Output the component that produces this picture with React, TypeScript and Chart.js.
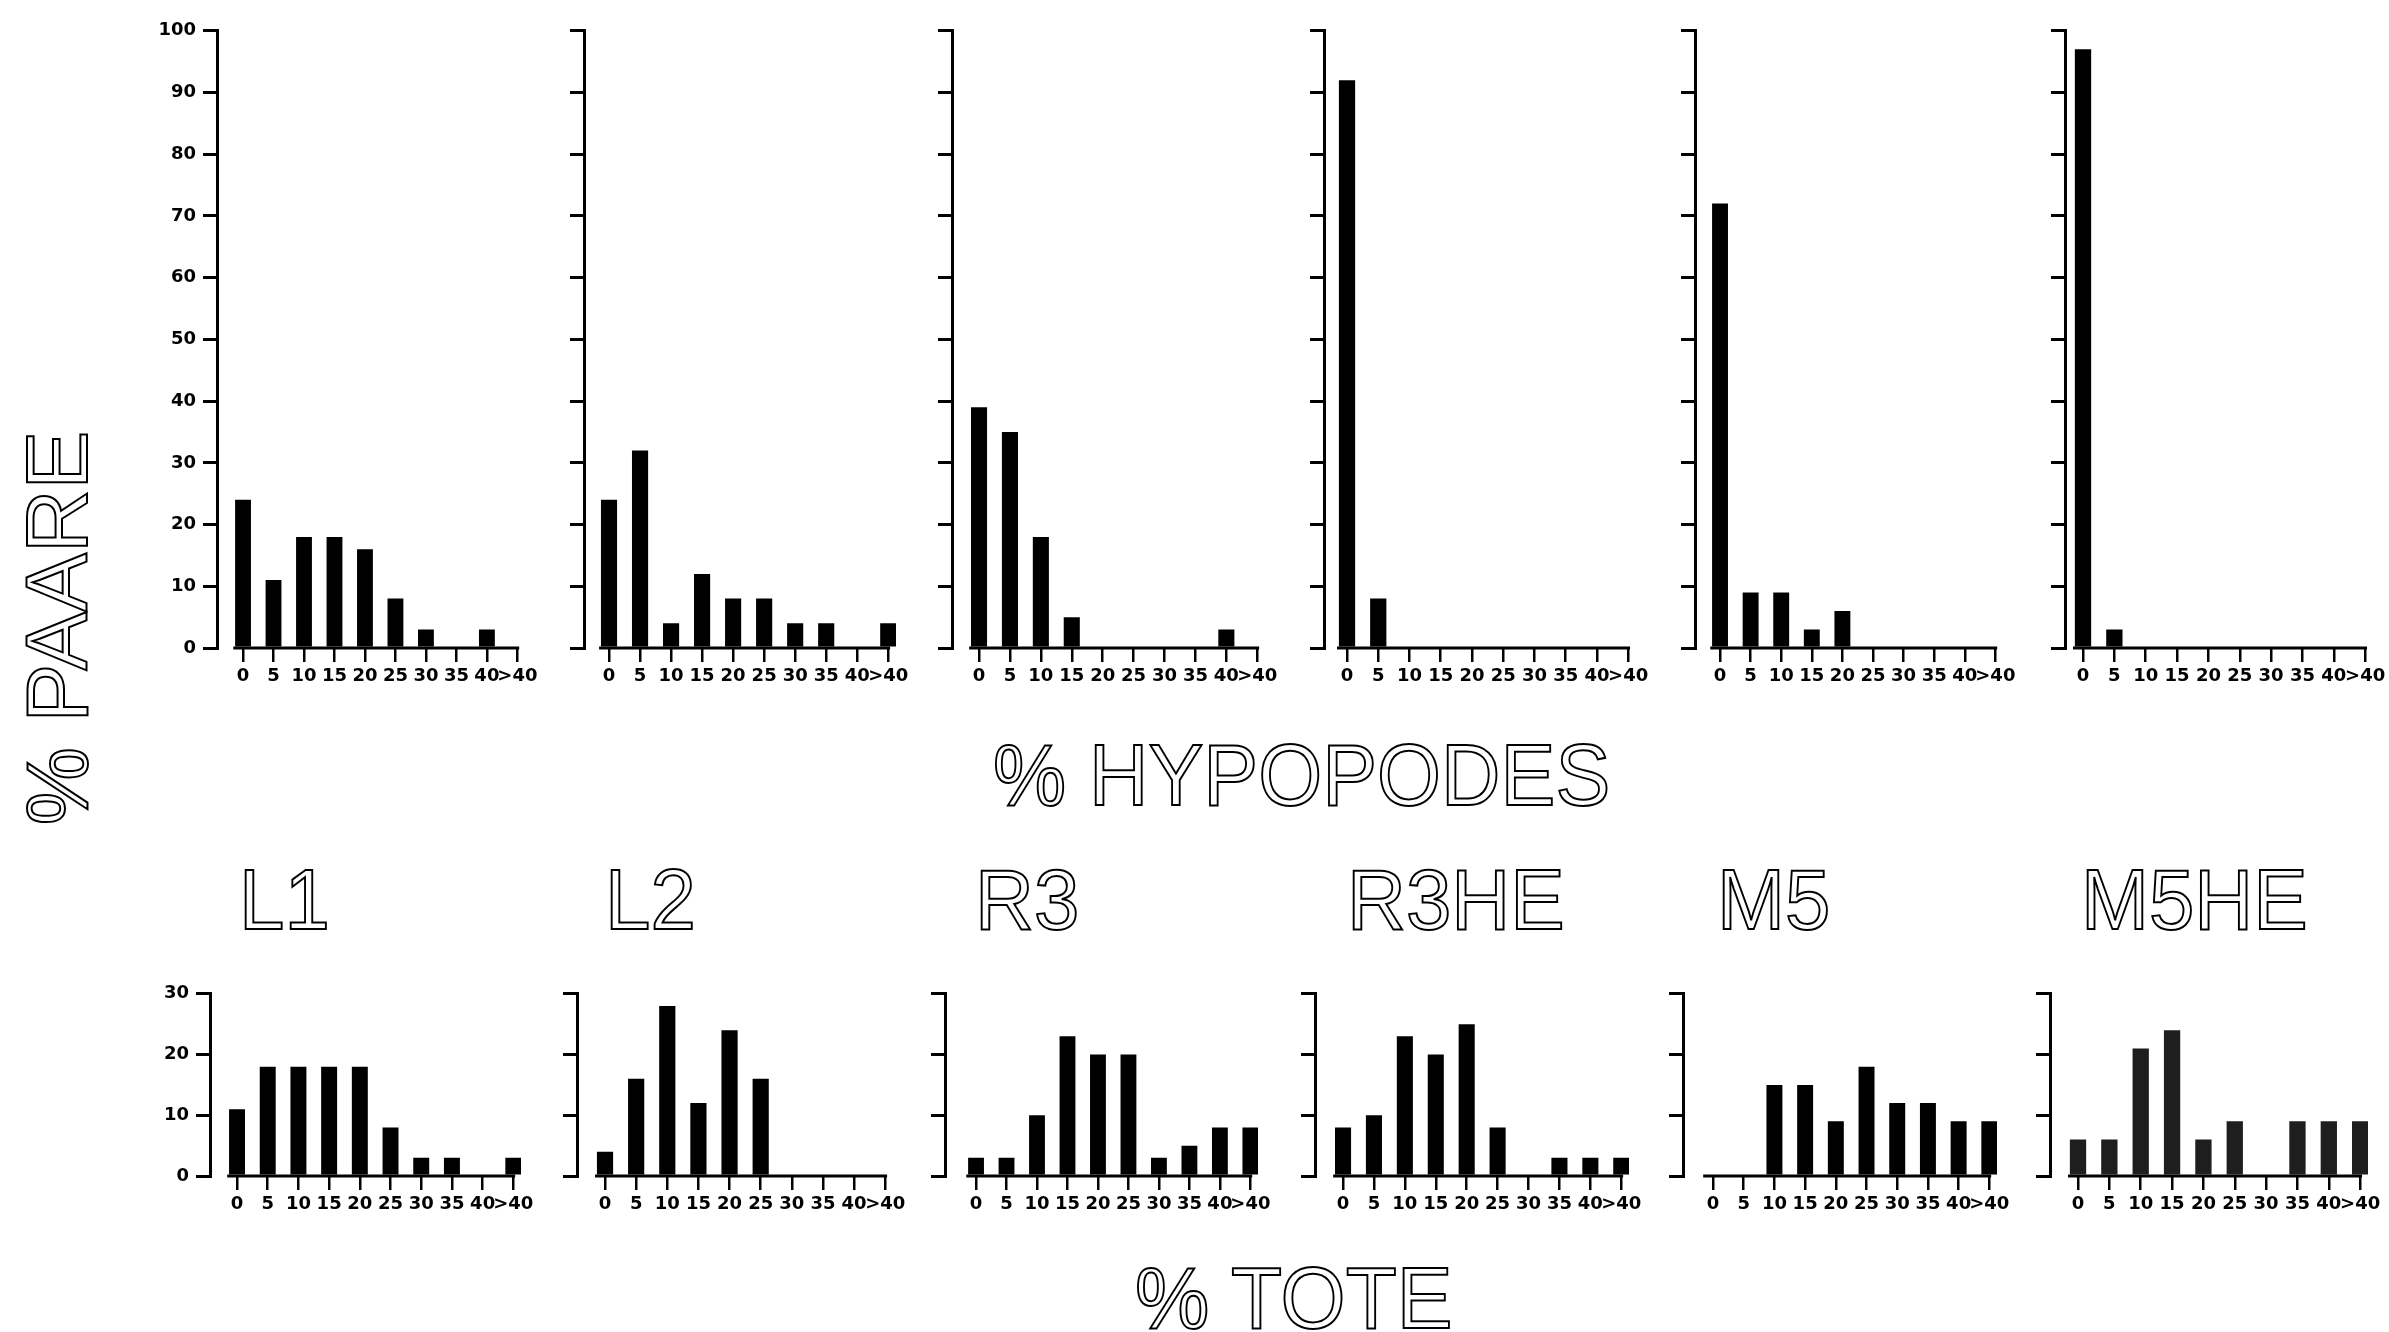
import React, { useEffect, useRef } from "react";
import { Chart, registerables } from "chart.js";

Chart.register(...registerables);

// ---------- data ----------
const categories = ["0", "5", "10", "15", "20", "25", "30", "35", "40", ">40"];
const groups = ["L1", "L2", "R3", "R3HE", "M5", "M5HE"];

// % hypopodes distribution (% Paare)
const hypL1 = [24, 11, 18, 18, 16, 8, 3, 0, 3, 0];
const hypL2 = [24, 32, 4, 12, 8, 8, 4, 4, 0, 4];
const hypR3 = [39, 35, 18, 5, 0, 0, 0, 0, 3, 0];
const hypR3HE = [92, 8, 0, 0, 0, 0, 0, 0, 0, 0];
const hypM5 = [72, 9, 9, 3, 6, 0, 0, 0, 0, 0];
const hypM5HE = [97, 3, 0, 0, 0, 0, 0, 0, 0, 0];

// % tote distribution (% Paare)
const toteL1 = [11, 18, 18, 18, 18, 8, 3, 3, 0, 3];
const toteL2 = [4, 16, 28, 12, 24, 16, 0, 0, 0, 0];
const toteR3 = [3, 3, 10, 23, 20, 20, 3, 5, 8, 8];
const toteR3HE = [8, 10, 23, 20, 25, 8, 0, 3, 3, 3];
const toteM5 = [0, 0, 15, 15, 9, 18, 12, 12, 9, 9];
const toteM5HE = [6, 6, 21, 24, 6, 9, 0, 9, 9, 9];

const hypSeries = [hypL1, hypL2, hypR3, hypR3HE, hypM5, hypM5HE];
const toteSeries = [toteL1, toteL2, toteR3, toteR3HE, toteM5, toteM5HE];

const hypMax = 100;
const toteMax = 30;
const yStep = 10;

// ---------- layout ----------
const topAxisX = [217, 584, 952, 1324, 1695, 2065];
const topC0 = [243, 609, 979, 1347, 1720, 2083];
const topC9 = [517, 888, 1257, 1628, 1995, 2365];
const topY = 27;
const topZero = 648;

const botAxisX = [210, 577, 945, 1315, 1683, 2050];
const botC0 = [237, 605, 976, 1343, 1713, 2078];
const botC9 = [513, 885, 1250, 1621, 1989, 2360];
const botY = 990;
const botZero = 1176;

const groupLabelX = [239, 605, 975, 1347, 1717, 2081];

const TICK_FONT = { family: '"DejaVu Sans", sans-serif', size: 18, weight: "bold" as const };

const baselinePlugin = {
  id: "baseline",
  afterDatasetsDraw(chart: any) {
    const { ctx, scales } = chart;
    const x = scales.x;
    const y = scales.y;
    const yy = y.getPixelForValue(0);
    ctx.save();
    ctx.strokeStyle = "#000";
    ctx.lineWidth = 3;
    ctx.beginPath();
    ctx.moveTo(x.getPixelForValue(-0.32), yy);
    ctx.lineTo(x.getPixelForValue(9.06), yy);
    ctx.stroke();
    ctx.restore();
  },
};

type PanelProps = {
  values: number[];
  yMax: number;
  showYLabels: boolean;
  axisX: number;
  c0: number;
  c9: number;
  top: number;
  zero: number;
  color: string;
};

function Panel(p: PanelProps) {
  const ref = useRef<HTMLCanvasElement>(null);
  const Wy = 80;
  const Hx = 50;
  const padTop = 14;
  const padRight = 28;
  const sp = (p.c9 - p.c0) / 9;
  const xMin = -(p.c0 - p.axisX) / sp;
  const xMax = 9.25;
  const areaW = (xMax - xMin) * sp;
  const canvasW = Math.round(Wy + areaW + padRight);
  const canvasH = Math.round(padTop + (p.zero - p.top) + Hx);

  useEffect(() => {
    if (!ref.current) return;
    const chart = new Chart(ref.current, {
      type: "bar",
      data: {
        datasets: [
          {
            data: p.values.map((v, i) => ({ x: i, y: v })),
            backgroundColor: p.color,
            borderWidth: 0,
            barPercentage: 0.52,
            categoryPercentage: 1,
          },
        ],
      },
      options: {
        animation: false,
        responsive: false,
        maintainAspectRatio: false,
        layout: { padding: { top: padTop, right: padRight, left: 0, bottom: 0 } },
        plugins: { legend: { display: false }, tooltip: { enabled: false } },
        scales: {
          x: {
            type: "linear",
            min: xMin,
            max: xMax,
            offset: false,
            afterBuildTicks: (s: any) => {
              s.ticks = categories.map((_, i) => ({ value: i }));
            },
            afterFit: (s: any) => {
              s.height = Hx;
            },
            grid: {
              display: true,
              offset: false,
              drawOnChartArea: false,
              drawTicks: true,
              tickLength: 14,
              lineWidth: 2.5,
              color: "#000",
            },
            border: { display: false },
            ticks: {
              autoSkip: false,
              maxRotation: 0,
              minRotation: 0,
              padding: 4,
              color: "#000",
              font: TICK_FONT,
              callback: (v: any) => categories[Math.round(Number(v))] ?? "",
            },
          },
          y: {
            type: "linear",
            min: 0,
            max: p.yMax,
            afterFit: (s: any) => {
              s.width = Wy;
            },
            grid: {
              display: true,
              drawOnChartArea: false,
              drawTicks: true,
              tickLength: 14,
              lineWidth: 3,
              color: "#000",
            },
            border: { display: true, color: "#000", width: 3 },
            ticks: {
              stepSize: yStep,
              padding: 7,
              color: "#000",
              font: TICK_FONT,
              callback: (v: any) => (p.showYLabels ? String(v) : ""),
            },
          },
        },
      },
      plugins: [baselinePlugin],
    } as any);
    return () => chart.destroy();
  }, []);

  return (
    <canvas
      ref={ref}
      width={canvasW}
      height={canvasH}
      style={{
        position: "absolute",
        left: Math.round(p.axisX - Wy),
        top: Math.round(p.top - padTop),
        width: canvasW,
        height: canvasH,
      }}
    />
  );
}

const outline: React.CSSProperties = {
  position: "absolute",
  fontFamily: '"Liberation Sans", Arial, sans-serif',
  color: "#fff",
  WebkitTextStroke: "2px #000",
  lineHeight: 1,
  whiteSpace: "nowrap",
  transformOrigin: "left top",
};

export default function App() {
  return (
    <div
      style={{
        position: "absolute",
        left: 0,
        top: 0,
        width: 2389,
        height: 1332,
        background: "#fff",
        overflow: "hidden",
      }}
    >
      {hypSeries.map((vals, i) => (
        <Panel
          key={"h" + i}
          values={vals}
          yMax={hypMax}
          showYLabels={i === 0}
          axisX={topAxisX[i]}
          c0={topC0[i]}
          c9={topC9[i]}
          top={topY}
          zero={topZero}
          color="#000"
        />
      ))}
      {toteSeries.map((vals, i) => (
        <Panel
          key={"t" + i}
          values={vals}
          yMax={toteMax}
          showYLabels={i === 0}
          axisX={botAxisX[i]}
          c0={botC0[i]}
          c9={botC9[i]}
          top={botY}
          zero={botZero}
          color={i === 5 ? "#1e1e1e" : "#000"}
        />
      ))}

      <div style={{ ...outline, left: 993, top: 731, fontSize: 88, transform: "scaleX(0.935)" }}>
        % HYPOPODES
      </div>

      {groups.map((g, i) => (
        <div
          key={g}
          style={{ ...outline, left: groupLabelX[i], top: 857, fontSize: 85, transform: "scaleX(0.96)" }}
        >
          {g}
        </div>
      ))}

      <div style={{ ...outline, left: 1135, top: 1254, fontSize: 88, transform: "scaleX(0.95)" }}>
        % TOTE
      </div>

      <div
        style={{
          ...outline,
          left: 57,
          top: 628,
          fontSize: 88,
          transformOrigin: "center center",
          transform: "translate(-50%, -50%) rotate(-90deg)",
        }}
      >
        % PAARE
      </div>
    </div>
  );
}
